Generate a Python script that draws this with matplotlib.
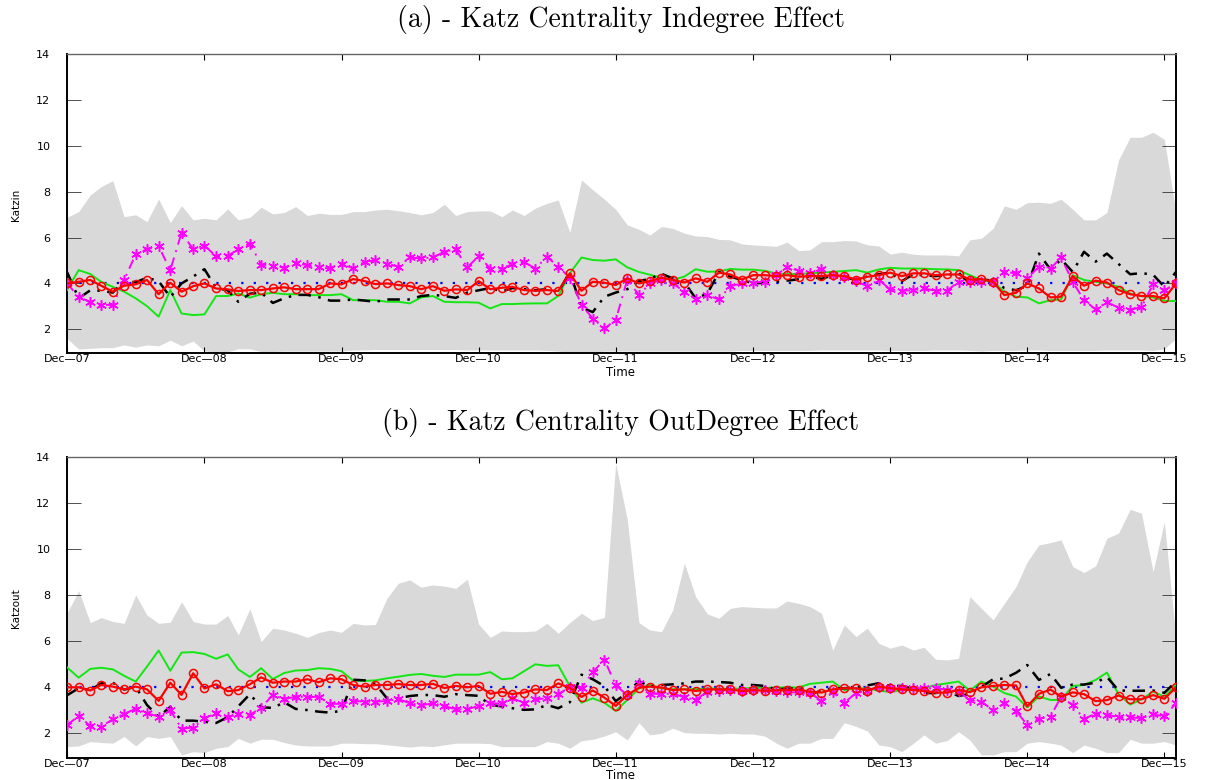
import matplotlib
matplotlib.use('Agg')
import matplotlib.pyplot as plt
import pandas as pd

# ---------------- data ----------------
months = pd.date_range('2007-12-01', periods=98, freq='MS')
tick_dates = pd.date_range('2007-12-01', '2015-12-01', freq='12MS')
tick_labels = ['Dec\u201407', 'Dec\u201408', 'Dec\u201409', 'Dec\u201410', 'Dec\u201411',
               'Dec\u201412', 'Dec\u201413', 'Dec\u201414', 'Dec\u201415']
ytick_values = [2, 4, 6, 8, 10, 12, 14]
baseline = 4.0

title_a = "(a) - Katz Centrality Indegree Effect"
title_b = "(b) - Katz Centrality OutDegree Effect"
ylabel_a = "Katzin"
ylabel_b = "Katzout"
xlabel = "Time"

# panel (a)
upper_a = [6.88, 7.13, 7.86, 8.22, 8.48, 6.91, 6.99, 6.69, 7.68, 6.65,
           7.39, 6.77, 6.84, 6.77, 7.25, 6.77, 6.88, 7.32, 7.03, 7.09,
           7.35, 6.96, 7.06, 7.01, 7.01, 7.13, 7.13, 7.20, 7.23, 7.17,
           7.09, 6.99, 7.09, 7.45, 6.96, 7.13, 7.16, 7.16, 6.91, 7.20,
           6.96, 7.28, 7.49, 7.64, 6.22, 8.51, 8.08, 7.67, 7.23, 6.55,
           6.36, 6.11, 6.48, 6.40, 6.19, 6.07, 6.04, 5.92, 5.90, 5.72,
           5.68, 5.65, 5.62, 5.80, 5.43, 5.46, 5.82, 5.82, 5.87, 5.85,
           5.68, 5.63, 5.28, 5.36, 5.27, 5.24, 5.24, 5.24, 5.20, 5.90,
           5.97, 6.40, 7.38, 7.23, 7.52, 7.54, 7.49, 7.67, 7.23, 6.77,
           6.77, 7.09, 9.38, 10.37, 10.37, 10.59, 10.28, 7.06]
lower_a = [1.60, 1.14, 1.17, 1.20, 1.20, 1.32, 1.22, 1.32, 1.28, 1.53,
           1.28, 1.49, 1.05, 1.02, 1.02, 1.15, 1.15, 1.03, 1.03, 1.05,
           1.05, 1.05, 1.05, 1.05, 1.05, 1.10, 1.10, 1.12, 1.12, 1.12,
           1.12, 1.12, 1.12, 1.12, 1.12, 1.10, 1.10, 1.10, 1.10, 1.10,
           1.10, 1.10, 1.08, 1.05, 1.00, 0.90, 1.00, 1.05, 1.05, 1.05,
           1.05, 1.05, 1.05, 1.05, 1.05, 1.05, 1.05, 1.05, 1.05, 1.08,
           1.08, 1.08, 1.08, 1.08, 1.08, 1.08, 1.10, 1.10, 1.10, 1.10,
           1.10, 1.10, 1.08, 1.08, 1.08, 1.08, 1.10, 1.10, 1.10, 1.08,
           1.05, 1.08, 1.08, 1.08, 1.10, 1.10, 1.08, 1.08, 1.08, 1.08,
           1.08, 1.10, 1.10, 1.10, 1.10, 1.08, 1.15, 1.60]
green_a = [3.71, 4.58, 4.41, 4.07, 3.85, 3.64, 3.35, 3.01, 2.55, 3.71,
           2.69, 2.62, 2.65, 3.45, 3.45, 3.56, 3.38, 3.53, 3.59, 3.53,
           3.53, 3.49, 3.49, 3.49, 3.53, 3.27, 3.27, 3.27, 3.20, 3.20,
           3.13, 3.39, 3.45, 3.20, 3.18, 3.18, 3.16, 2.91, 3.10, 3.10,
           3.12, 3.13, 3.13, 3.45, 4.44, 5.13, 5.02, 4.99, 5.05, 4.70,
           4.50, 4.38, 4.25, 4.15, 4.30, 4.62, 4.51, 4.52, 4.63, 4.60,
           4.60, 4.55, 4.43, 4.41, 4.41, 4.44, 4.47, 4.51, 4.54, 4.58,
           4.47, 4.61, 4.68, 4.65, 4.65, 4.64, 4.62, 4.61, 4.58, 4.36,
           4.15, 4.07, 3.64, 3.42, 3.39, 3.13, 3.27, 3.30, 4.36, 4.15,
           4.07, 4.00, 3.85, 3.56, 3.45, 3.39, 3.24, 3.23]
black_a = [4.50, 3.35, 3.70, 3.68, 3.60, 4.10, 4.05, 4.25, 4.10, 3.40,
           4.00, 4.30, 4.62, 3.80, 3.70, 3.20, 3.55, 3.60, 3.15, 3.35,
           3.50, 3.50, 3.40, 3.25, 3.25, 3.30, 3.25, 3.20, 3.30, 3.30,
           3.30, 3.45, 3.50, 3.45, 3.37, 3.60, 3.70, 3.80, 3.65, 3.80,
           3.75, 3.70, 3.75, 3.62, 4.50, 2.95, 2.75, 3.42, 3.60, 3.75,
           4.10, 4.20, 4.42, 4.22, 4.05, 3.35, 3.55, 4.50, 4.30, 4.15,
           4.00, 4.03, 4.07, 4.12, 4.18, 4.30, 4.20, 4.35, 4.25, 4.17,
           4.30, 4.40, 4.47, 4.10, 4.40, 4.35, 4.32, 4.36, 4.47, 4.00,
           4.18, 4.12, 3.80, 3.70, 3.90, 5.30, 4.60, 5.05, 4.50, 5.38,
           4.95, 5.30, 4.85, 4.40, 4.45, 4.38, 3.85, 4.50]
magenta_a = [4.00, 3.42, 3.18, 3.06, 3.06, 4.15, 5.27, 5.49, 5.62, 4.58,
             6.21, 5.49, 5.65, 5.18, 5.20, 5.49, 5.74, 4.82, 4.78, 4.69,
             4.88, 4.80, 4.70, 4.66, 4.85, 4.66, 4.95, 5.00, 4.86, 4.73,
             5.13, 5.09, 5.13, 5.38, 5.48, 4.70, 5.19, 4.65, 4.65, 4.84,
             4.94, 4.65, 5.16, 4.73, 4.25, 3.06, 2.47, 2.04, 2.40, 4.17,
             3.49, 4.00, 4.17, 4.00, 3.64, 3.32, 3.49, 3.30, 3.88, 4.00,
             4.03, 4.08, 4.36, 4.73, 4.55, 4.45, 4.62, 4.36, 4.30, 4.10,
             3.88, 4.15, 3.74, 3.68, 3.71, 3.78, 3.68, 3.68, 4.07, 4.07,
             4.07, 4.07, 4.50, 4.44, 4.22, 4.73, 4.65, 5.13, 4.07, 3.27,
             2.87, 3.18, 2.95, 2.85, 2.97, 3.97, 3.70, 4.00]
red_a = [4.00, 4.07, 4.15, 3.90, 3.64, 3.90, 3.96, 4.15, 3.53, 4.03,
         3.64, 3.88, 4.00, 3.78, 3.74, 3.67, 3.71, 3.71, 3.78, 3.83,
         3.75, 3.75, 3.75, 4.00, 3.96, 4.19, 4.10, 3.97, 4.00, 3.93,
         3.88, 3.75, 3.88, 3.68, 3.74, 3.71, 4.10, 3.75, 3.81, 3.85,
         3.71, 3.68, 3.71, 3.67, 4.44, 3.68, 4.07, 4.03, 3.93, 4.22,
         4.00, 4.10, 4.25, 4.15, 4.04, 4.22, 4.07, 4.47, 4.39, 4.17,
         4.36, 4.36, 4.32, 4.36, 4.29, 4.32, 4.32, 4.36, 4.32, 4.17,
         4.29, 4.36, 4.47, 4.32, 4.44, 4.44, 4.36, 4.39, 4.39, 4.17,
         4.19, 4.07, 3.49, 3.59, 4.00, 3.78, 3.39, 3.42, 4.32, 3.90,
         4.12, 4.04, 3.71, 3.53, 3.45, 3.45, 3.35, 4.00]

# panel (b)
upper_b = [7.22, 8.20, 6.81, 7.03, 6.86, 6.78, 8.01, 7.14, 6.78, 6.83,
           7.72, 6.86, 6.75, 6.75, 7.12, 6.28, 7.41, 5.99, 6.57, 6.49,
           6.35, 6.17, 6.38, 6.49, 6.39, 6.78, 6.71, 6.73, 7.87, 8.52,
           8.67, 8.35, 8.45, 8.40, 8.30, 8.70, 6.75, 6.17, 6.45, 6.42,
           6.42, 6.45, 6.78, 6.35, 6.81, 7.22, 6.90, 7.04, 13.74, 11.28,
           6.81, 6.49, 6.42, 7.36, 9.39, 7.94, 7.19, 7.00, 7.43, 7.51,
           7.48, 7.45, 7.45, 7.75, 7.65, 7.51, 7.22, 5.62, 6.71, 6.20,
           6.57, 5.91, 5.70, 5.84, 5.62, 5.74, 5.22, 5.19, 5.26, 7.94,
           7.43, 6.93, 7.65, 8.38, 9.46, 10.19, 10.29, 10.41, 9.25, 8.99,
           9.28, 10.48, 10.70, 11.74, 11.57, 9.03, 11.20, 6.10]
lower_b = [1.42, 1.45, 1.64, 1.60, 1.57, 1.86, 1.45, 1.86, 1.78, 1.86,
           1.06, 1.20, 1.16, 1.35, 1.42, 1.78, 1.57, 1.74, 1.74, 1.60,
           1.49, 1.45, 1.45, 1.45, 1.57, 1.57, 1.55, 1.55, 1.50, 1.45,
           1.40, 1.45, 1.42, 1.50, 1.57, 1.57, 1.57, 1.55, 1.42, 1.42,
           1.42, 1.42, 1.64, 1.57, 1.35, 1.68, 1.74, 1.88, 2.07, 1.71,
           2.46, 1.93, 2.00, 2.22, 2.03, 2.00, 2.00, 1.97, 2.00, 1.97,
           1.97, 1.88, 1.57, 1.35, 1.57, 1.57, 1.78, 1.78, 2.46, 2.30,
           2.10, 1.49, 1.42, 1.20, 1.57, 1.93, 1.57, 1.68, 2.07, 1.71,
           1.06, 1.06, 1.20, 1.20, 1.57, 1.64, 1.57, 1.49, 1.16, 1.49,
           1.35, 1.16, 1.16, 1.74, 1.57, 1.57, 1.64, 1.49]
green_b = [4.87, 4.42, 4.80, 4.85, 4.78, 4.50, 4.25, 4.90, 5.60, 4.72,
           5.51, 5.53, 5.45, 5.24, 5.43, 4.78, 4.45, 4.83, 4.36, 4.62,
           4.73, 4.75, 4.83, 4.80, 4.70, 4.29, 4.28, 4.30, 4.39, 4.46,
           4.54, 4.58, 4.50, 4.45, 4.55, 4.55, 4.55, 4.66, 4.35, 4.39,
           4.70, 5.00, 4.93, 4.96, 4.05, 3.33, 3.52, 3.33, 2.97, 3.45,
           3.95, 4.12, 3.95, 3.92, 3.92, 3.92, 3.95, 3.95, 3.93, 3.95,
           3.97, 3.97, 3.99, 4.00, 3.99, 4.15, 4.20, 4.25, 3.88, 3.95,
           3.95, 3.85, 3.80, 3.87, 3.92, 3.97, 4.10, 4.17, 4.25, 3.86,
           4.25, 4.03, 3.75, 3.60, 3.13, 3.60, 3.45, 3.45, 4.06, 4.10,
           4.32, 4.64, 3.70, 3.25, 3.47, 3.81, 3.59, 4.10]
black_b = [3.65, 3.96, 3.88, 4.17, 4.20, 3.90, 4.02, 3.23, 2.72, 3.15,
           2.55, 2.55, 2.50, 2.45, 2.70, 3.17, 3.70, 3.14, 3.10, 3.35,
           3.06, 3.01, 2.94, 2.90, 2.98, 4.33, 4.30, 4.15, 3.52, 3.52,
           3.62, 3.67, 3.66, 3.59, 3.70, 3.66, 3.63, 3.23, 3.17, 3.09,
           3.02, 3.04, 3.23, 3.09, 3.35, 4.55, 4.35, 4.05, 3.40, 3.75,
           4.27, 4.03, 4.10, 4.13, 4.17, 4.25, 4.25, 4.23, 4.20, 4.10,
           4.10, 4.06, 3.90, 3.95, 3.97, 3.70, 3.85, 3.95, 3.96, 4.00,
           4.08, 4.18, 4.06, 4.06, 3.95, 3.75, 3.75, 3.85, 3.62, 3.72,
           4.02, 4.35, 4.38, 4.63, 4.97, 4.32, 4.58, 3.98, 4.12, 4.12,
           4.20, 4.45, 3.86, 3.85, 3.85, 3.86, 3.76, 4.25]
magenta_b = [2.36, 2.75, 2.32, 2.29, 2.61, 2.85, 3.06, 2.87, 2.73, 3.01,
             2.20, 2.25, 2.65, 2.87, 2.72, 2.82, 2.80, 3.11, 3.67, 3.48,
             3.59, 3.57, 3.59, 3.28, 3.28, 3.41, 3.38, 3.38, 3.40, 3.50,
             3.30, 3.22, 3.30, 3.19, 3.04, 3.04, 3.20, 3.30, 3.30, 3.52,
             3.33, 3.48, 3.52, 3.71, 4.00, 3.96, 4.66, 5.20, 4.10, 3.65,
             4.17, 3.72, 3.71, 3.72, 3.57, 3.45, 3.81, 3.85, 3.88, 3.82,
             3.88, 3.88, 3.82, 3.78, 3.78, 3.75, 3.42, 3.80, 3.33, 3.75,
             3.85, 4.00, 3.95, 3.95, 3.95, 3.97, 3.95, 3.90, 3.82, 3.45,
             3.38, 3.00, 3.30, 2.98, 2.36, 2.63, 2.73, 3.59, 3.23, 2.63,
             2.85, 2.80, 2.71, 2.70, 2.65, 2.82, 2.74, 3.30]
red_b = [4.00, 4.00, 3.86, 4.10, 4.03, 3.91, 4.03, 3.91, 3.41, 4.20,
         3.67, 4.61, 3.95, 4.13, 3.83, 3.88, 4.13, 4.43, 4.20, 4.25,
         4.25, 4.35, 4.22, 4.39, 4.35, 4.10, 4.03, 4.10, 4.10, 4.14,
         4.10, 4.10, 4.15, 3.97, 4.06, 4.00, 4.06, 3.72, 3.80, 3.71,
         3.77, 3.91, 3.88, 4.17, 3.97, 3.58, 3.86, 3.55, 3.19, 3.67,
         3.98, 4.03, 3.99, 3.88, 3.91, 3.84, 3.91, 3.91, 3.91, 3.84,
         3.88, 3.85, 3.87, 3.88, 3.90, 3.81, 3.77, 3.91, 3.96, 3.96,
         3.86, 4.03, 3.96, 3.91, 3.88, 3.84, 3.77, 3.77, 3.88, 3.79,
         4.00, 4.06, 4.10, 4.08, 3.17, 3.72, 3.90, 3.59, 3.78, 3.70,
         3.40, 3.44, 3.64, 3.48, 3.48, 3.66, 3.50, 4.00]

# ---------------- figure ----------------
W, H = 1211, 780
fig = plt.figure(figsize=(W / 100, H / 100), dpi=100)
fig.patch.set_facecolor('white')

GREY = '#d9d9d9'
GREEN = '#14e614'
MAGENTA = '#ff00ff'
RED = '#ff0000'
BLUE = '#0000ff'


def panel(rect, upper, lower, green, black, magenta, red, ybottom):
    ax = fig.add_axes(rect)
    ax.fill_between(months, lower, upper, color=GREY, linewidth=0, zorder=1)
    ax.plot(months, [baseline] * len(months), color=BLUE, lw=1.6,
            linestyle=(0, (1.0, 4.6)), zorder=2)
    ax.plot(months, green, color=GREEN, lw=1.4, zorder=3)
    ax.plot(months, black, color='black', lw=1.8,
            linestyle=(0, (5, 3, 1, 3)), zorder=4)
    ax.plot(months, magenta, color=MAGENTA, lw=1.4, linestyle=(0, (5, 3, 1, 3)),
            marker=(6, 2, 0), markersize=7.5, markeredgewidth=1.1,
            markeredgecolor=MAGENTA, zorder=5)
    ax.plot(months, red, color=RED, lw=1.6, marker='o', markersize=5.8,
            markerfacecolor='none', markeredgecolor=RED, markeredgewidth=1.1,
            zorder=6)
    ax.set_xlim(months[0], months[-1])
    ax.set_ylim(ybottom, 14)
    ax.set_xticks(tick_dates)
    ax.set_xticklabels(tick_labels, fontsize=8, family='DejaVu Sans')
    ax.set_yticks(ytick_values)
    ax.set_yticklabels([str(v) for v in ytick_values], fontsize=8,
                       family='DejaVu Sans')
    ax.tick_params(axis='x', direction='in', length=4, width=0.8,
                   top=True, bottom=True, pad=0.8)
    ax.tick_params(axis='y', direction='in', length=10, width=0.6,
                   left=True, right=True, pad=12, color='#333333')
    for s in ('left', 'bottom', 'right'):
        ax.spines[s].set_linewidth(1.4)
        ax.spines[s].set_color('black')
    ax.spines['top'].set_linewidth(1.0)
    ax.spines['top'].set_color('#666666')
    ax.set_facecolor('white')
    return ax


left = 67 / W
width = (1176 - 67) / W
ax1 = panel([left, 1 - 353.3 / H, width, (353.3 - 54) / H],
            upper_a, lower_a, green_a, black_a, magenta_a, red_a, 0.954)
ax2 = panel([left, 1 - 758.3 / H, width, (758.3 - 457.3) / H],
            upper_b, lower_b, green_b, black_b, magenta_b, red_b, 0.913)

title_font = dict(family='cmr10', fontsize=20, ha='center', va='center')
fig.text(621 / W, 1 - 19 / H, title_a, **title_font)
fig.text(621 / W, 1 - 423 / H, title_b, **title_font)

fig.text(16 / W, 1 - 205 / H, ylabel_a, rotation=90, ha='center', va='center',
         fontsize=7.5, family='DejaVu Sans')
fig.text(16 / W, 1 - 608 / H, ylabel_b, rotation=90, ha='center', va='center',
         fontsize=7.5, family='DejaVu Sans')
fig.text(621 / W, 1 - 372 / H, xlabel, ha='center', va='center',
         fontsize=8.5, family='DejaVu Sans')
fig.text(621 / W, 1 - 775.5 / H, xlabel, ha='center', va='center',
         fontsize=8.5, family='DejaVu Sans')

fig.savefig('out.png', dpi=100, facecolor='white')
